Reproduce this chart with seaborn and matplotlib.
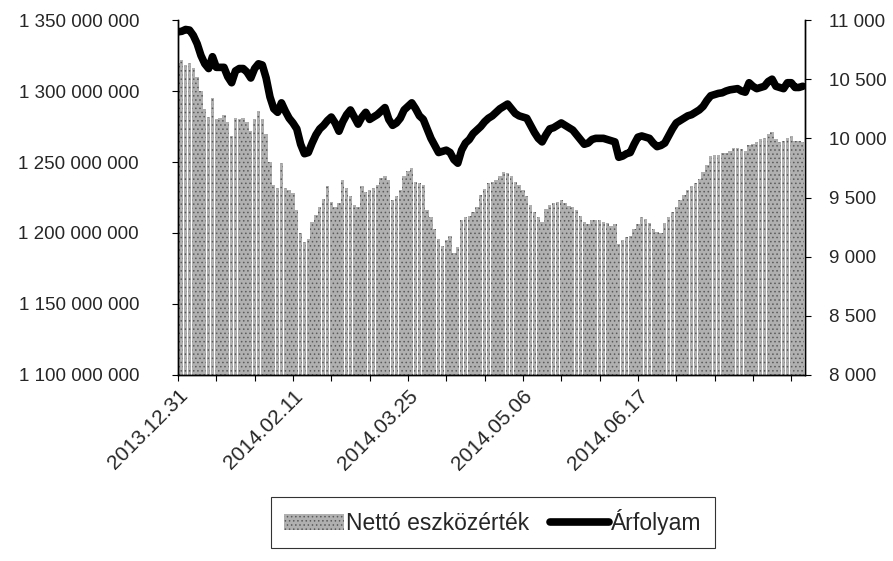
import numpy as np
import pandas as pd
import matplotlib
matplotlib.use("Agg")
import matplotlib.pyplot as plt
import seaborn as sns
from matplotlib.ticker import FuncFormatter, MultipleLocator
from matplotlib.lines import Line2D
from matplotlib.patches import Patch

# Nettó eszközérték (millió Ft), napi adatok 2013.12.31-től
netto_m = [
    1320, 1322, 1318, 1320, 1316, 1310, 1300, 1287, 1282, 1295,
    1280, 1281, 1283, 1278, 1268, 1281, 1280, 1281, 1278, 1272,
    1280, 1286, 1280, 1270, 1250, 1234, 1232, 1249, 1232, 1230,
    1228, 1216, 1200, 1194, 1196, 1208, 1213, 1218, 1224, 1233,
    1222, 1218, 1221, 1237, 1232, 1226, 1220, 1218, 1233, 1229,
    1230, 1232, 1234, 1239, 1240, 1237, 1223, 1226, 1230, 1240,
    1244, 1246, 1236, 1235, 1234, 1216, 1211, 1203, 1196, 1191,
    1195, 1198, 1186, 1190, 1209, 1211, 1212, 1215, 1218, 1227,
    1231, 1235, 1236, 1237, 1240, 1243, 1242, 1240, 1236, 1234,
    1230, 1226, 1220, 1215, 1211, 1208, 1217, 1220, 1221, 1222,
    1223, 1221, 1219, 1218, 1216, 1212, 1208, 1206, 1209, 1209,
    1209, 1208, 1207, 1205, 1206, 1192, 1195, 1197, 1198, 1203,
    1206, 1211, 1210, 1207, 1203, 1201, 1200, 1207, 1211, 1215,
    1218, 1223, 1227, 1230, 1233, 1235, 1238, 1243, 1248, 1254,
    1255, 1255, 1256, 1256, 1258, 1260, 1260, 1259, 1258, 1262,
    1263, 1264, 1266, 1267, 1270, 1271, 1266, 1264, 1265, 1267,
    1268, 1265, 1265, 1264,
]

# Árfolyam
arfolyam = [
    10900, 10905, 10920, 10915, 10870, 10800, 10700, 10630, 10590, 10690,
    10600, 10600, 10600, 10520, 10470, 10570, 10590, 10590, 10560, 10510,
    10590, 10630, 10620, 10510, 10350, 10250, 10220, 10300, 10230, 10170,
    10130, 10080, 9950, 9870, 9880, 9960, 10030, 10080, 10110, 10150,
    10180, 10130, 10060, 10140, 10200, 10240, 10180, 10120, 10180, 10220,
    10160, 10180, 10200, 10230, 10260, 10160, 10110, 10130, 10170, 10240,
    10270, 10300, 10250, 10190, 10160, 10080, 10000, 9940, 9880, 9890,
    9900, 9880, 9820, 9790, 9900, 9960, 9990, 10040, 10070, 10100,
    10140, 10170, 10190, 10220, 10250, 10270, 10290, 10250, 10210, 10190,
    10180, 10170, 10110, 10050, 10000, 9970, 10030, 10080, 10090, 10110,
    10130, 10110, 10090, 10070, 10030, 9990, 9950, 9960, 9990, 10000,
    10000, 10000, 9990, 9980, 9970, 9840, 9850, 9870, 9880, 9950,
    10010, 10020, 10010, 10000, 9960, 9930, 9940, 9960, 10020, 10080,
    10130, 10150, 10170, 10190, 10200, 10220, 10240, 10270, 10320, 10360,
    10370, 10380, 10385, 10400, 10410, 10415, 10420, 10400, 10390, 10470,
    10440, 10420, 10430, 10440, 10480, 10500, 10440, 10430, 10420, 10470,
    10470, 10430, 10430, 10440,
]

# feliratozott dátumok (csak ezek látszanak a tengelyen)
cimke_datumok = ["2013.12.31", "2014.02.11", "2014.03.25", "2014.05.06", "2014.06.17"]

n = len(netto_m)
datumok = list(pd.bdate_range("2013-12-31", periods=n).strftime("%Y.%m.%d"))

df = pd.DataFrame({
    "Dátum": datumok,
    "Nettó eszközérték": np.array(netto_m) * 1e6,
    "Árfolyam": arfolyam,
})

sns.set_style("white")
plt.rcParams["font.family"] = ["Liberation Sans", "DejaVu Sans"]
plt.rcParams["hatch.linewidth"] = 0.6

fig = plt.figure(figsize=(8.93, 5.61), dpi=100)
ax = fig.add_axes([0.1993, 0.3316, 0.7022, 0.6327])

bar_color = "#b0b0b0"
dot_color = "#5a5a5a"
sns.barplot(data=df, x="Dátum", y="Nettó eszközérték", color=bar_color,
            width=0.88, linewidth=0, saturation=1, ax=ax)
for p in ax.patches:
    p.set_hatch("....")
    p.set_edgecolor(dot_color)
    p.set_linewidth(0)
ax.set_ylim(1.1e9, 1.35e9)
ax.yaxis.set_major_locator(MultipleLocator(5e7))

ax2 = ax.twinx()
sns.lineplot(x=np.arange(n), y=df["Árfolyam"], color="black", linewidth=5.5,
             ax=ax2, legend=False)
ax2.set_ylim(8000, 11000)
ax2.yaxis.set_major_locator(MultipleLocator(500))

ax.set_xlim(0, n - 0.4)

space_fmt = FuncFormatter(lambda v, p: f"{int(round(v)):,}".replace(",", " "))
ax.yaxis.set_major_formatter(space_fmt)
ax2.yaxis.set_major_formatter(space_fmt)

ticks = [datumok.index(d) for d in cimke_datumok]
ax.set_xticks(ticks)
ax.set_xticklabels(cimke_datumok, rotation=45, ha="right",
                   rotation_mode="anchor", fontsize=15)
ax.set_xticks(list(range(0, n, 10)), minor=True)
ax.set_xlabel("")
ax.set_ylabel("")
ax2.set_ylabel("")

for a in (ax, ax2):
    a.spines["top"].set_visible(False)
    for s in ("left", "right", "bottom"):
        a.spines[s].set_color("black")
        a.spines[s].set_linewidth(1.0)
    a.tick_params(axis="y", which="major", length=4, width=0.8, color="black",
                  labelsize=13.5)
ax.tick_params(axis="x", which="both", length=4, width=0.8, color="black",
               bottom=True, pad=4)
ax.tick_params(axis="y", left=True, right=False, pad=24)
ax2.tick_params(axis="y", right=True, left=False, pad=13)

handles = [Patch(facecolor=bar_color, edgecolor=dot_color, hatch="....", linewidth=0),
           Line2D([0], [0], color="black", linewidth=5.5)]
leg = fig.legend(handles, ["Nettó eszközérték", "Árfolyam"], loc="center",
                 bbox_to_anchor=(0.552, 0.069), ncol=2, frameon=True,
                 fancybox=False, edgecolor="black", fontsize=16.5,
                 handlelength=2.6, handletextpad=0.1, columnspacing=0.9,
                 borderpad=0.55)
leg.get_frame().set_linewidth(0.8)

fig.savefig("out.png", dpi=100)
